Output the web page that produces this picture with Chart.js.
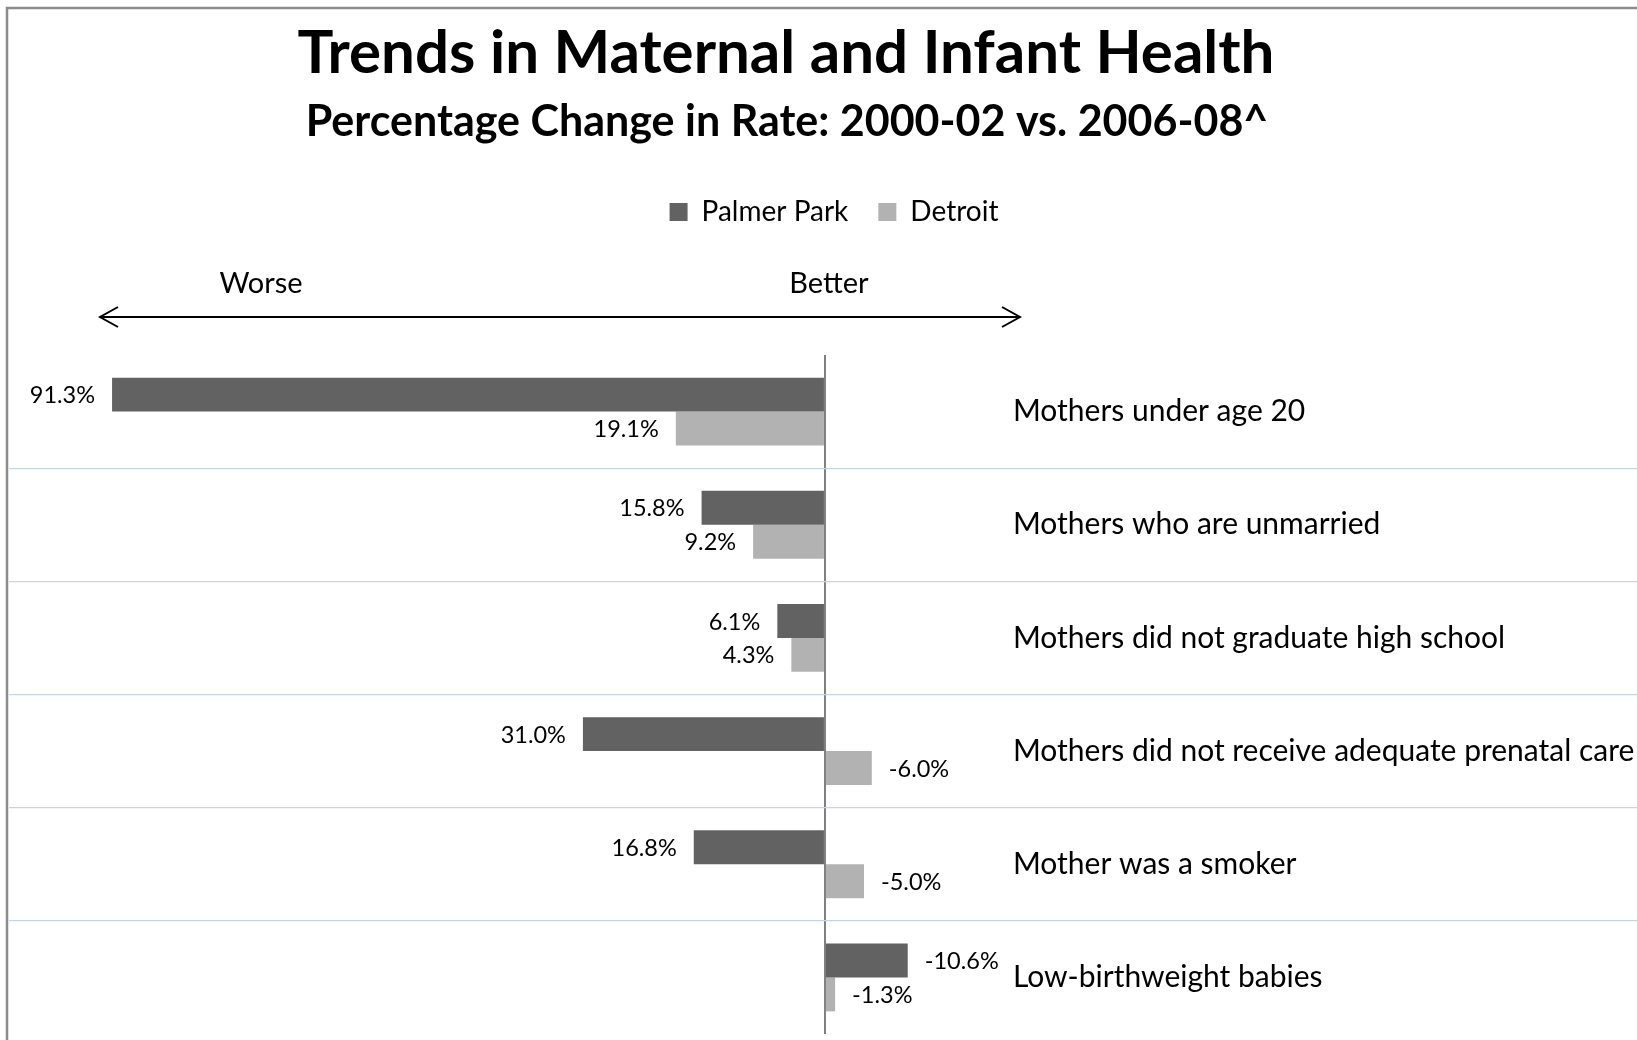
<!DOCTYPE html>
<html>
<head>
<meta charset="utf-8">
<title>Trends in Maternal and Infant Health</title>
<script src="https://cdn.jsdelivr.net/npm/chart.js@4.4.1/dist/chart.umd.min.js"></script>
<style>
  html, body { margin: 0; padding: 0; background: #fff; }
  #wrap { position: absolute; left: 0; top: 0; width: 1637px; height: 1040px; }
</style>
</head>
<body>
<div id="wrap"><canvas id="chart"></canvas></div>
<script>
// categories, top to bottom
var categories = [
    'Mothers under age 20',
    'Mothers who are unmarried',
    'Mothers did not graduate high school',
    'Mothers did not receive adequate prenatal care',
    'Mother was a smoker',
    'Low-birthweight babies'
];
var seriesNames = ['Palmer Park', 'Detroit'];
// percentage change in rate, positive = worse
var palmerPark = [91.3, 15.8, 6.1, 31.0, 16.8, -10.6];
var detroit = [19.1, 9.2, 4.3, -6.0, -5.0, -1.3];

var FONT = 'Lato, "Open Sans", sans-serif';
var ctx = document.getElementById('chart');

// frame, titles and the worse/better arrow
var decorPlugin = {
    id: 'decor',
    afterLayout: function(chart) {
        // legend sits a little right of centre in the original
        chart.legend.left += 11;
        chart.legend.right += 11;
    },
    beforeDraw: function(chart) {
        var c = chart.ctx;
        c.save();
        c.fillStyle = '#fff';
        c.fillRect(0, 0, chart.width, chart.height);
        c.strokeStyle = '#8c8c8c';
        c.lineWidth = 2.5;
        c.beginPath();
        c.moveTo(7, chart.height);
        c.lineTo(7, 8);
        c.lineTo(chart.width, 8);
        c.stroke();
        c.restore();
    },
    afterDraw: function(chart) {
        var c = chart.ctx;
        c.save();
        c.fillStyle = '#000';
        c.textAlign = 'center';
        c.textBaseline = 'middle';
        c.font = 'bold 60px ' + FONT;
        c.fillText('Trends in Maternal and Infant Health', 786, 54);
        c.font = 'bold 43px ' + FONT;
        c.fillText('Percentage Change in Rate: 2000-02 vs. 2006-08^', 787, 122);
        c.font = '29px ' + FONT;
        c.fillText('Worse', 261, 284);
        c.fillText('Better', 829, 284);

        // double headed arrow
        var y = 317, x1 = 100, x2 = 1020;
        c.strokeStyle = '#000';
        c.lineWidth = 2;
        c.beginPath();
        c.moveTo(x1, y); c.lineTo(x2, y);
        c.moveTo(x1 + 18, y - 10); c.lineTo(x1, y); c.lineTo(x1 + 18, y + 10);
        c.moveTo(x2 - 18, y - 10); c.lineTo(x2, y); c.lineTo(x2 - 18, y + 10);
        c.stroke();
        c.restore();
    },
    afterDatasetsDraw: function(chart) {
        var c = chart.ctx;
        var xs = chart.scales.x, ys = chart.scales.y;
        var zero = xs.getPixelForValue(0);
        c.save();
        c.fillStyle = '#000';
        c.textBaseline = 'middle';
        // value labels beside each bar end
        c.font = '23.5px ' + FONT;
        chart.data.datasets.forEach(function(ds, di) {
            var meta = chart.getDatasetMeta(di);
            meta.data.forEach(function(bar, i) {
                var v = ds.data[i];
                var txt = v.toFixed(1) + '%';
                if (v >= 0) {
                    c.textAlign = 'right';
                    c.fillText(txt, bar.x - 17, bar.y + 1);
                } else {
                    c.textAlign = 'left';
                    c.fillText(txt, bar.x + 17, bar.y + 1);
                }
            });
        });
        // category names on the right
        c.font = '30px ' + FONT;
        c.textAlign = 'left';
        categories.forEach(function(cat, i) {
            c.fillText(cat, zero + 188, ys.getPixelForValue(i));
        });
        c.restore();
    }
};

var chart = new Chart(ctx, {
    type: 'bar',
    data: {
        labels: categories,
        datasets: [{
            label: seriesNames[0],
            data: palmerPark,
            backgroundColor: '#626262',
            borderWidth: 0,
            categoryPercentage: 0.6,
            barPercentage: 1.0
        }, {
            label: seriesNames[1],
            data: detroit,
            backgroundColor: '#b2b2b2',
            borderWidth: 0,
            categoryPercentage: 0.6,
            barPercentage: 1.0
        }]
    },
    options: {
        indexAxis: 'y',
        responsive: true,
        maintainAspectRatio: false,
        animation: false,
        layout: { padding: { left: 9, right: 0, top: 168, bottom: 6 } },
        plugins: {
            title: { display: false },
            tooltip: { enabled: false },
            legend: {
                position: 'top',
                labels: {
                    boxWidth: 18,
                    boxHeight: 18,
                    padding: 30,
                    color: '#000',
                    font: { family: FONT, size: 28 }
                }
            }
        },
        scales: {
            x: {
                position: 'top',
                reverse: true,
                min: -104,
                max: 104.5,
                afterBuildTicks: function(scale) { scale.ticks = [{ value: 0 }]; },
                afterFit: function(scale) { scale.height = 119; },
                ticks: { display: false },
                border: { display: false },
                grid: { color: '#808080', lineWidth: 2, drawTicks: false }
            },
            y: {
                offset: true,
                ticks: { display: false },
                border: { display: false },
                grid: {
                    offset: true,
                    drawTicks: false,
                    color: function(context) {
                        // only the separators between categories
                        if (context.type !== 'tick' || context.index === 0) return 'rgba(0,0,0,0)';
                        return '#c6d4e3';
                    },
                    lineWidth: 1.2
                }
            }
        }
    },
    plugins: [decorPlugin]
});
</script>
</body>
</html>
